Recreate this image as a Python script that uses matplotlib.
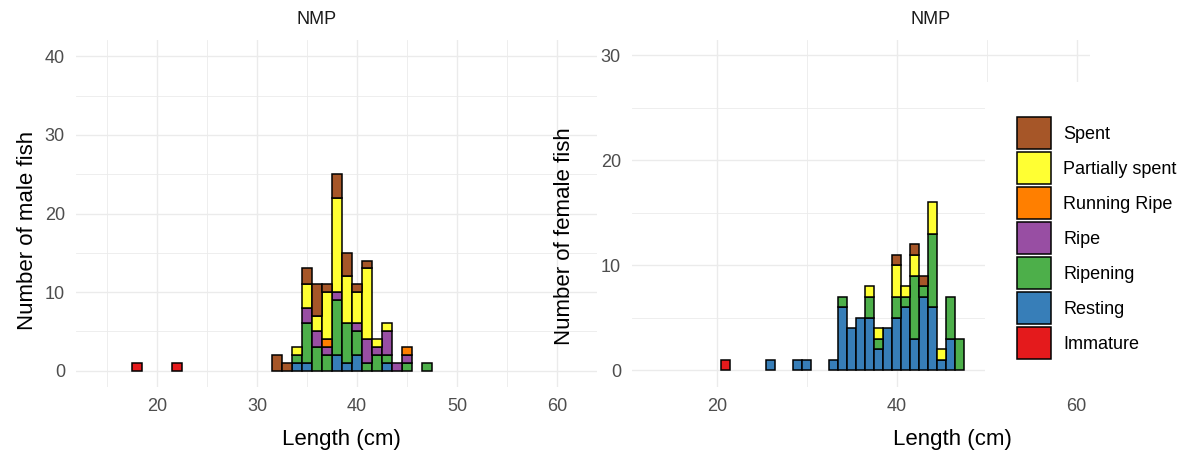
import numpy as np
import matplotlib
matplotlib.use("Agg")
import matplotlib.pyplot as plt
from matplotlib.patches import Patch, Rectangle

plt.rcParams['font.family'] = ['Liberation Sans', 'DejaVu Sans']

stages = ["Immature", "Resting", "Ripening", "Ripe", "Running Ripe", "Partially spent", "Spent"]
colors = ["#E41A1C", "#377EB8", "#4DAF4A", "#984EA3", "#FF7F00", "#FFFF33", "#A65628"]

# Male (bin centres in cm)
male_len = [18, 22, 32, 33, 34, 35, 36, 37, 38, 39, 40, 41, 42, 43, 44, 45, 47]
male_immature = [1, 1, 0, 0, 0, 0, 0, 0, 0, 0, 0, 0, 0, 0, 0, 0, 0]
male_resting = [0, 0, 0, 0, 1, 1, 0, 0, 2, 1, 2, 0, 0, 1, 0, 0, 0]
male_ripening = [0, 0, 0, 0, 1, 5, 3, 2, 7, 5, 3, 1, 2, 1, 0, 1, 1]
male_ripe = [0, 0, 0, 0, 0, 2, 2, 1, 1, 0, 1, 3, 1, 3, 1, 1, 0]
male_running = [0, 0, 0, 0, 0, 0, 0, 1, 0, 0, 0, 0, 0, 0, 0, 1, 0]
male_partial = [0, 0, 0, 0, 1, 3, 2, 6, 12, 6, 4, 9, 1, 1, 0, 0, 0]
male_spent = [0, 0, 2, 1, 0, 2, 4, 1, 3, 3, 1, 1, 0, 0, 0, 0, 0]

# Female
female_len = [21, 26, 29, 30, 33, 34, 35, 36, 37, 38, 39, 40, 41, 42, 43, 44, 45, 46, 47]
female_immature = [1, 0, 0, 0, 0, 0, 0, 0, 0, 0, 0, 0, 0, 0, 0, 0, 0, 0, 0]
female_resting = [0, 1, 1, 1, 1, 6, 4, 5, 5, 2, 4, 5, 6, 3, 7, 6, 1, 3, 0]
female_ripening = [0, 0, 0, 0, 0, 1, 0, 0, 2, 1, 0, 2, 1, 6, 1, 7, 0, 4, 3]
female_ripe = [0] * 19
female_running = [0] * 19
female_partial = [0, 0, 0, 0, 0, 0, 0, 0, 1, 1, 0, 3, 1, 2, 0, 3, 1, 0, 0]
female_spent = [0, 0, 0, 0, 0, 0, 0, 0, 0, 0, 0, 1, 0, 1, 1, 0, 0, 0, 0]

male_stack = [male_immature, male_resting, male_ripening, male_ripe, male_running, male_partial, male_spent]
female_stack = [female_immature, female_resting, female_ripening, female_ripe, female_running, female_partial, female_spent]

W, H = 1186, 450
fig = plt.figure(figsize=(W / 100, H / 100), dpi=100)

def px_axes(x0, y0, x1, y1):
    return fig.add_axes([x0 / W, 1 - y1 / H, (x1 - x0) / W, (y1 - y0) / H])

grid_col = "#EBEBEB"
tick_col = "#4D4D4D"

def draw(ax, lengths, stack, xlim, ylim, xmaj, xmin, ymaj, ymin, ylabel, title_x, xlabel_x, ylab_xy):
    x = np.array(lengths, dtype=float)
    bottom = np.zeros(len(x))
    for vals, c in zip(stack, colors):
        v = np.array(vals, dtype=float)
        m = v > 0
        if m.any():
            ax.bar(x[m], v[m], width=1.0, bottom=bottom[m], color=c,
                   edgecolor="black", linewidth=1.1, zorder=3)
        bottom += v
    ax.set_xlim(*xlim)
    ax.set_ylim(*ylim)
    ax.set_xticks(xmaj)
    ax.set_xticks(xmin, minor=True)
    ax.set_yticks(ymaj)
    ax.set_yticks(ymin, minor=True)
    ax.grid(which="major", color=grid_col, linewidth=1.0)
    ax.grid(which="minor", color=grid_col, linewidth=0.6)
    ax.set_axisbelow(True)
    for s in ax.spines.values():
        s.set_visible(False)
    ax.set_facecolor("none")
    ax.tick_params(which="both", length=0, labelsize=13, colors=tick_col)
    ax.tick_params(axis="x", pad=8)
    ax.tick_params(axis="y", pad=8)
    ax.set_ylabel(ylabel, fontsize=16, color="black")
    ax.yaxis.set_label_coords(*ylab_xy)
    ax.set_xlabel("Length (cm)", fontsize=16, color="black")
    ax.xaxis.set_label_coords(xlabel_x, -0.12)
    ax.text(title_x, 1.058, "NMP", transform=ax.transAxes, ha="center", va="center",
            fontsize=13, color="#1A1A1A")

ax1 = px_axes(76, 40, 597, 387)
draw(ax1, male_len, male_stack, (11.9, 64.0), (-2.1, 42.1),
     [20, 30, 40, 50, 60], [15, 25, 35, 45, 55], [0, 10, 20, 30, 40], [5, 15, 25, 35],
     "Number of male fish", 0.4626, 0.51, (-0.073, 0.452))

ax2 = px_axes(632, 40, 1090, 387)
draw(ax2, female_len, female_stack, (10.55, 61.5), (-1.6, 31.45),
     [20, 40, 60], [30, 50], [0, 10, 20, 30], [5, 15, 25],
     "Number of female fish", 0.651, 0.699, (-0.1245, 0.435))

# white legend background covering part of the right panel
fig.add_artist(Rectangle((985 / W, 1 - 392 / H), (W - 985) / W, (392 - 82) / H,
                         transform=fig.transFigure, facecolor="white",
                         edgecolor="none", zorder=5))

handles = [Patch(facecolor=c, edgecolor="black", linewidth=1.1) for c in colors][::-1]
labels = stages[::-1]
leg = fig.legend(handles, labels, loc="upper left",
                 bbox_to_anchor=(1017 / W, 1 - 117 / H), frameon=False,
                 fontsize=13, handlelength=1.9, handleheight=2.39,
                 labelspacing=0.14, handletextpad=0.65, borderpad=0,
                 borderaxespad=0)
leg.set_zorder(6)

fig.savefig("out.png", dpi=100, facecolor="white")
